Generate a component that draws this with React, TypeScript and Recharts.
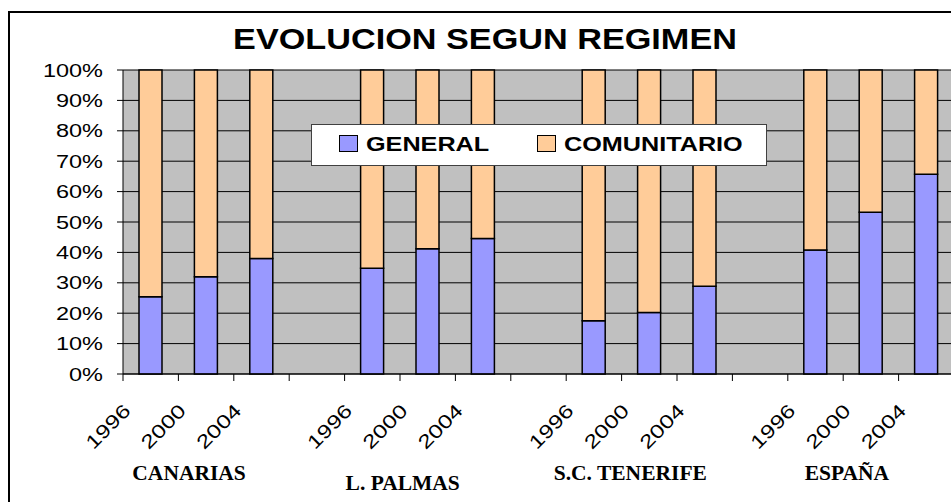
import { BarChart, Bar, XAxis, YAxis, CartesianGrid, Legend } from "recharts";

const groups = ["CANARIAS", "L. PALMAS", "S.C. TENERIFE", "ESPAÑA"];
const years = ["1996", "2000", "2004"];
// % régimen general, por grupo y año
const general = [25.4, 32.0, 38.0, 34.8, 41.2, 44.6, 17.5, 20.2, 28.9, 40.8, 53.2, 65.7];
// % régimen comunitario
const comunitario = [74.6, 68.0, 62.0, 65.2, 58.8, 55.4, 82.5, 79.8, 71.1, 59.2, 46.8, 34.3];
const percentTicks = [0, 10, 20, 30, 40, 50, 60, 70, 80, 90, 100];
const seriesOrder = ["GENERAL", "COMUNITARIO"];

type Row = { key: string; group: string; year: string; general?: number; comunitario?: number };

// one empty category between groups, like the original sheet
const rows: Row[] = [];
groups.forEach((g, gi) => {
  years.forEach((y, yi) => {
    const i = gi * years.length + yi;
    rows.push({ key: `${g} ${y}`, group: g, year: y, general: general[i], comunitario: comunitario[i] });
  });
  if (gi < groups.length - 1) rows.push({ key: `gap-${gi}`, group: g, year: "" });
});

const SANS = "'Liberation Sans', Arial, sans-serif";
const SERIF = "'Liberation Serif', 'Times New Roman', serif";

// nudges for the group captions (they were free text boxes in the original)
const groupDx = [-17, -25, -19, -24];
const groupDy = [0, 10, 0, 0];

const CategoryTick = (props: any) => {
  const { x, y, index, width } = props;
  const row = rows[index];
  // tick marks sit on the category edges, Excel style
  const half = width / rows.length / 2;
  const marks = [x - half];
  if (index === rows.length - 1) marks.push(x + half);
  const gi = groups.indexOf(row?.group);
  const showGroup = row && years.indexOf(row.year) === 1;
  return (
    <g>
      {marks.map((mx) => (
        <line key={mx} x1={mx} x2={mx} y1={y} y2={y + 7} stroke="#000" strokeWidth={1} />
      ))}
      {row && row.year && (
        <g transform={`translate(${x - 19},${y + 38}) rotate(-45) scale(1.28,1)`}>
          <text x={0} y={0} textAnchor="end" fill="#000" fontSize={19} fontFamily={SANS}
            style={{ fontFamily: SANS, fontSize: "19px" }}>
            {row.year}
          </text>
        </g>
      )}
      {showGroup && (
        <text
          x={x + groupDx[gi]}
          y={y + 106 + groupDy[gi]}
          textAnchor="middle"
          fill="#000"
          style={{ fontFamily: SERIF, fontSize: 21.5, fontWeight: "bold" }}
        >
          {row.group}
        </text>
      )}
    </g>
  );
};

const PercentTick = ({ x, y, payload }: any) => (
  <g transform={`translate(${x},${y + 6.6}) scale(1.27,1)`}>
    <text x={0} y={0} textAnchor="end" fill="#000" style={{ fontFamily: SANS, fontSize: 18.5 }}>
      {payload.value}%
    </text>
  </g>
);

const LegendBox = ({ payload }: any) => {
  const items = [...(payload || [])].sort(
    (a: any, b: any) => seriesOrder.indexOf(a.value) - seriesOrder.indexOf(b.value)
  );
  return (
    <div
      style={{
        position: "relative",
        width: 456,
        height: 42,
        boxSizing: "border-box",
        background: "#fff",
        border: "1px solid #404040",
        fontFamily: SANS,
      }}
    >
      {items.map((item: any, i: number) => (
        <div
          key={item.value}
          style={{ position: "absolute", left: 27 + i * 198, top: 10, display: "flex", alignItems: "center", height: 17 }}
        >
          <span
            style={{
              display: "inline-block",
              width: 19,
              height: 17,
              boxSizing: "border-box",
              border: "1.5px solid #000",
              background: item.color,
            }}
          />
          <span
            style={{
              display: "inline-block",
              marginLeft: 8,
              fontWeight: "bold",
              fontSize: 21,
              lineHeight: "17px",
              whiteSpace: "nowrap",
              transform: "scaleX(1.2)",
              transformOrigin: "left center",
            }}
          >
            {item.value}
          </span>
        </div>
      ))}
    </div>
  );
};

export default function App() {
  return (
    <div
      style={{
        position: "absolute",
        left: 0,
        top: 0,
        width: 951,
        height: 502,
        overflow: "hidden",
        background: "#fff",
      }}
    >
      {/* outer chart frame */}
      <div
        style={{
          position: "absolute",
          left: 8,
          top: 11,
          width: 980,
          height: 540,
          border: "2px solid #000",
        }}
      />
      <div
        style={{
          position: "absolute",
          left: 485,
          top: 25,
          transform: "translateX(-50%) scaleX(1.18)",
          fontFamily: SANS,
          fontWeight: "bold",
          fontSize: 29,
          lineHeight: 1,
          whiteSpace: "nowrap",
        }}
      >
        EVOLUCION SEGUN REGIMEN
      </div>
      <div style={{ position: "absolute", left: 0, top: 0 }}>
        <BarChart
          width={960}
          height={502}
          data={rows}
          margin={{ top: 70, right: 6, bottom: 127, left: 63 }}
          barCategoryGap={0}
        >
          <CartesianGrid vertical={false} fill="#C0C0C0" fillOpacity={1} stroke="#000" />
          <XAxis
            dataKey="key"
            type="category"
            interval={0}
            height={1}
            tickSize={0}
            tickMargin={0}
            axisLine={{ stroke: "#000" }}
            tickLine={false}
            tick={CategoryTick}
          />
          <YAxis
            width={60}
            domain={[0, 100]}
            ticks={percentTicks}
            interval={0}
            tickSize={6}
            tickMargin={14}
            axisLine={{ stroke: "#000" }}
            tickLine={{ stroke: "#000" }}
            tick={PercentTick}
          />
          <Legend
            layout="horizontal"
            verticalAlign="middle"
            align="center"
            wrapperStyle={{ left: 311, top: 124, width: 456, height: 42 }}
            content={LegendBox}
          />
          <Bar
            dataKey="general"
            name="GENERAL"
            stackId="a"
            fill="#9999FF"
            stroke="#000"
            strokeWidth={1.5}
            barSize={23}
            isAnimationActive={false}
          />
          <Bar
            dataKey="comunitario"
            name="COMUNITARIO"
            stackId="a"
            fill="#FFCC99"
            stroke="#000"
            strokeWidth={1.5}
            barSize={23}
            isAnimationActive={false}
          />
        </BarChart>
      </div>
    </div>
  );
}
